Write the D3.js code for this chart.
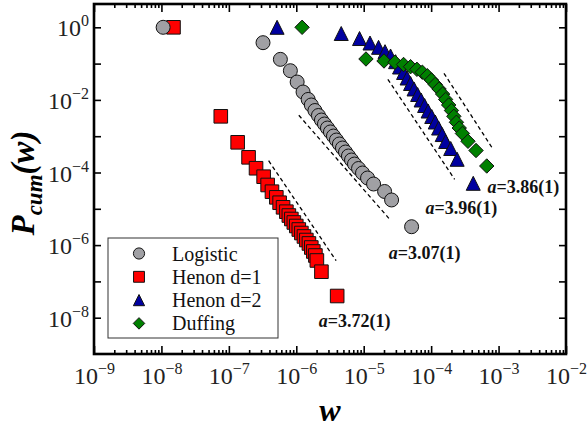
<!DOCTYPE html>
<html>
<head>
<meta charset="utf-8">
<script src="https://cdn.jsdelivr.net/npm/d3@7.9.0/dist/d3.min.js"></script>
<style>
  body { margin: 0; background: #fff; }
  svg { display: block; }
</style>
</head>
<body>
<svg id="chart" width="587" height="433"></svg>
<script>
// ---- data ----
const seriesNames = ['Logistic', 'Henon d=1', 'Henon d=2', 'Duffing'];

const logisticW = [1.06e-8, 3.21e-7, 5.81e-7, 8.17e-7, 1.03e-6, 1.26e-6, 1.50e-6, 1.67e-6, 1.89e-6, 2.13e-6,
  2.36e-6, 2.62e-6, 2.90e-6, 3.21e-6, 3.56e-6, 3.94e-6, 4.36e-6, 4.84e-6, 5.37e-6, 5.94e-6,
  6.59e-6, 7.30e-6, 8.38e-6, 9.60e-6, 1.14e-5, 1.40e-5, 2.04e-5, 2.59e-5, 5.13e-5];
const logisticP = [1, 0.377, 0.131, 0.0637, 0.0311, 0.0165, 0.0103, 7.24e-3, 5.1e-3, 3.72e-3,
  2.79e-3, 2.17e-3, 1.68e-3, 1.31e-3, 1.01e-3, 7.85e-4, 6.10e-4, 4.73e-4, 3.67e-4, 2.85e-4,
  2.21e-4, 1.71e-4, 1.29e-4, 9.69e-5, 7.05e-5, 4.82e-5, 3.0e-5, 1.75e-5, 3.21e-6];

const henon1W = [1.51e-8, 7.59e-8, 1.35e-7, 1.96e-7, 2.53e-7, 3.28e-7, 3.76e-7, 4.36e-7, 5.06e-7, 5.66e-7,
  6.37e-7, 7.13e-7, 7.76e-7, 8.45e-7, 9.2e-7, 1.0e-6, 1.09e-6, 1.19e-6, 1.30e-6, 1.41e-6,
  1.54e-6, 1.67e-6, 1.79e-6, 1.92e-6, 2.02e-6, 2.36e-6, 4.04e-6];
const henon1P = [1, 3.53e-3, 6.79e-4, 2.62e-4, 1.31e-4, 7.66e-5, 4.53e-5, 2.96e-5, 2.07e-5, 1.47e-5,
  1.10e-5, 8.32e-6, 6.53e-6, 5.24e-6, 4.2e-6, 3.36e-6, 2.69e-6, 2.15e-6, 1.73e-6, 1.38e-6,
  1.11e-6, 8.59e-7, 6.67e-7, 5.17e-7, 3.77e-7, 1.85e-7, 3.96e-8];

const henon2W = [5.19e-7, 4.64e-6, 8.67e-6, 1.24e-5, 1.66e-5, 2.07e-5, 2.50e-5, 2.97e-5, 3.40e-5, 3.90e-5,
  4.40e-5, 4.95e-5, 5.58e-5, 6.30e-5, 7.10e-5, 8.0e-5, 9.02e-5, 1.02e-4, 1.15e-4, 1.29e-4,
  1.46e-4, 1.64e-4, 1.95e-4, 2.43e-4, 4.21e-4];
const henon2P = [1, 0.675, 0.491, 0.369, 0.281, 0.213, 0.162, 0.113, 0.0806, 0.0569,
  0.0401, 0.0283, 0.0200, 0.0141, 9.93e-3, 7.01e-3, 4.94e-3, 3.49e-3, 2.46e-3, 1.68e-3,
  1.11e-3, 7.14e-4, 4.58e-4, 2.31e-4, 5.04e-5];

const duffingW = [1.22e-6, 1.08e-5, 2.0e-5, 2.90e-5, 3.90e-5, 4.95e-5, 6.15e-5, 7.40e-5, 8.79e-5, 1.01e-4,
  1.15e-4, 1.31e-4, 1.48e-4, 1.64e-4, 1.82e-4, 2.0e-4, 2.17e-4, 2.37e-4, 2.61e-4, 2.91e-4,
  3.52e-4, 4.63e-4, 6.68e-4];
const duffingP = [1, 0.134, 0.118, 0.109, 0.0945, 0.0822, 0.0697, 0.0579, 0.0461, 0.0353,
  0.0266, 0.0200, 0.0145, 0.0103, 7.24e-3, 5.1e-3, 3.53e-3, 2.42e-3, 1.68e-3, 1.19e-3,
  7.24e-4, 4.04e-4, 1.51e-4];

// dashed power-law guides: [start, end] as [w, P]
const fitHenon1 = [[3.89e-7, 2.11e-4], [3.90e-6, 3.72e-7]];
const fitLogistic = [[1.09e-6, 3.77e-3], [2.36e-5, 5.47e-6]];
const fitHenon2 = [[2.28e-5, 0.0369], [2.23e-4, 6.5e-5]];
const fitDuffing = [[1.55e-4, 0.054], [8.11e-4, 4.64e-4]];

const exponentLabels = ['3.72(1)', '3.07(1)', '3.96(1)', '3.86(1)'];

const xMajorExp = [-9, -8, -7, -6, -5, -4, -3, -2];
const yMajorExp = [0, -2, -4, -6, -8];
const yMinorExp = [-1, -3, -5, -7];

// ---- setup ----
const FONT = 'Liberation Serif';
const svg = d3.select('#chart').attr('font-family', FONT);
const L = 94, R = 566, T = 4, B = 354;

const x = d3.scaleLog().domain([1e-9, 1e-2]).range([L, R]);
const y = d3.scaleLog().domain([1e-9, Math.pow(10, 0.642)]).range([B, T]);

// marker paths, s = half size
function markerPath(kind, s) {
  if (kind === 'circle') return d3.symbol(d3.symbolCircle, Math.PI * s * s)();
  if (kind === 'square') return `M${-s},${-s}H${s}V${s}H${-s}Z`;
  if (kind === 'triangle') return `M0,${-s}L${s},${s}L${-s},${s}Z`;
  return `M0,${-s}L${s},0L0,${s}L${-s},0Z`; // diamond
}

const series = [
  { name: seriesNames[1], w: henon1W, p: henon1P, kind: 'square', fill: '#ff0000', size: 6.8 },
  { name: seriesNames[0], w: logisticW, p: logisticP, kind: 'circle', fill: '#a0a0a4', size: 7 },
  { name: seriesNames[2], w: henon2W, p: henon2P, kind: 'triangle', fill: '#0000a0', size: 7 },
  { name: seriesNames[3], w: duffingW, p: duffingP, kind: 'diamond', fill: '#008000', size: 7.2 },
];

// ---- ticks ----
const xMajor = xMajorExp.map(e => Math.pow(10, e));
const xMinor = [];
xMajorExp.slice(0, -1).forEach(e => { for (let k = 2; k <= 9; k++) xMinor.push(k * Math.pow(10, e)); });
const yTicks = yMajorExp.concat(yMinorExp).map(e => Math.pow(10, e));

const axes = svg.append('g');
function addAxis(axis, tx, ty, vals, len) {
  const g = axes.append('g').attr('transform', `translate(${tx},${ty})`)
    .call(axis.tickValues(vals).tickSize(-len).tickFormat(''));
  g.select('.domain').remove();
  g.selectAll('.tick line').attr('stroke', '#000').attr('stroke-width', 1.6);
}
addAxis(d3.axisBottom(x), 0, B, xMajor, 8);
addAxis(d3.axisBottom(x), 0, B, xMinor, 4);
addAxis(d3.axisTop(x), 0, T, xMajor, 8);
addAxis(d3.axisTop(x), 0, T, xMinor, 4);
addAxis(d3.axisLeft(y), L, 0, yTicks, 7);
addAxis(d3.axisRight(y), R, 0, yTicks, 7);

// tick labels with superscript exponents
function expLabel(sel, e) {
  sel.append('tspan').text('10');
  sel.append('tspan').attr('font-size', 16).attr('dy', -10)
    .text(e < 0 ? '\u2212' + (-e) : String(e));
}
xMajorExp.forEach(e => {
  svg.append('text').attr('x', x(Math.pow(10, e)) + 0.5).attr('y', 384)
    .attr('font-family', FONT).attr('text-anchor', 'middle').attr('font-size', 24).attr('fill', '#222')
    .call(expLabel, e);
});
yMajorExp.forEach(e => {
  svg.append('text').attr('x', 89).attr('y', y(Math.pow(10, e)) + 9)
    .attr('font-family', FONT).attr('text-anchor', 'end').attr('font-size', 24).attr('fill', '#222')
    .call(expLabel, e);
});

// ---- dashed guides ----
const line = d3.line().x(d => x(d[0])).y(d => y(d[1]));
[fitHenon1, fitLogistic, fitHenon2, fitDuffing].forEach(f => {
  svg.append('path').attr('d', line(f)).attr('fill', 'none')
    .attr('stroke', '#000').attr('stroke-width', 1.3).attr('stroke-dasharray', '4,3');
});

// ---- markers ----
series.forEach(s => {
  svg.append('g').selectAll('path')
    .data(s.w.map((w, i) => [w, s.p[i]]))
    .join('path')
    .attr('transform', d => `translate(${x(d[0])},${y(d[1])})`)
    .attr('d', markerPath(s.kind, s.size))
    .attr('fill', s.fill)
    .attr('stroke', '#111')
    .attr('stroke-width', 1);
});

// ---- exponent annotations ----
const annotAt = [[2.15e-6, 5.6e-9], [2.36e-5, 4.06e-7], [8.28e-5, 7.28e-6], [6.84e-4, 2.67e-5]];
exponentLabels.forEach((t, i) => {
  const txt = svg.append('text').attr('x', x(annotAt[i][0])).attr('y', y(annotAt[i][1]))
    .attr('font-family', FONT).attr('font-size', 18).attr('font-weight', 'bold').attr('fill', '#111');
  txt.append('tspan').attr('font-style', 'italic').text('a');
  txt.append('tspan').text('=' + t);
});

// ---- frame ----
svg.append('rect').attr('x', L).attr('y', T).attr('width', R - L).attr('height', B - T)
  .attr('fill', 'none').attr('stroke', '#000').attr('stroke-width', 2.6);

// ---- legend ----
const legend = svg.append('g').attr('transform', 'translate(108,238)');
legend.append('rect').attr('width', 170).attr('height', 100)
  .attr('fill', '#fff').attr('stroke', '#333').attr('stroke-width', 1);
const legendOrder = [series[1], series[0], series[2], series[3]];
legendOrder.forEach((s, i) => {
  const row = legend.append('g').attr('transform', `translate(31,${15.5 + i * 23.3})`);
  row.append('path').attr('d', markerPath(s.kind, s.size * 0.8))
    .attr('fill', s.fill).attr('stroke', '#111').attr('stroke-width', 1);
  row.append('text').attr('x', 33).attr('y', 7).attr('font-family', FONT)
    .attr('font-size', 20).attr('fill', '#111').text(s.name);
});

// ---- axis titles ----
svg.append('text').attr('x', 330).attr('y', 421).attr('text-anchor', 'middle').attr('font-family', FONT)
  .attr('font-size', 32).attr('font-weight', 'bold').attr('font-style', 'italic').text('w');

const ylab = svg.append('text').attr('transform', 'translate(34,183) rotate(-90)').attr('font-family', FONT)
  .attr('text-anchor', 'middle').attr('font-size', 33).attr('font-weight', 'bold').attr('font-style', 'italic');
ylab.append('tspan').text('P');
ylab.append('tspan').attr('font-size', 23).attr('dy', 8).text('cum');
ylab.append('tspan').attr('dy', -8).text('(w)');
</script>
</body>
</html>
